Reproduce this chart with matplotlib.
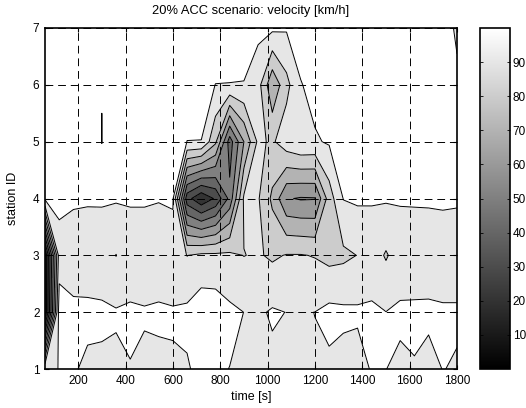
import numpy as np
import matplotlib
matplotlib.use("Agg")
import matplotlib.pyplot as plt
from matplotlib.colors import Normalize
from matplotlib.cm import ScalarMappable

plt.rcParams['font.family'] = ['Liberation Sans', 'DejaVu Sans']

times = [60, 120, 180, 240, 300, 360, 420, 480, 540, 600,
         660, 720, 780, 840, 900, 960, 1020, 1080, 1140, 1200,
         1260, 1320, 1380, 1440, 1500, 1560, 1620, 1680, 1740, 1800]
stations = [1, 2, 3, 4, 5, 6, 7]

v_st1 = [88, 90.2, 90.63, 88.73, 88.75, 88.58, 89.77, 88.78, 88.54, 89.4,
         89.25, 92.25, 91, 89.9, 88, 88, 88, 88.5, 89, 89.5,
         88.33, 86.94, 86.25, 90.75, 90.07, 88.7, 89.58, 87.75, 90.16, 89.4]
v_st2 = [0, 95, 91.9, 91.75, 91.35, 90.8, 91.1, 90.6, 91.1, 90.6,
         91.94, 96, 95.5, 91.8, 89.95, 88.6, 91, 89.86, 89.5, 90.05,
         92.5, 91.8, 91.46, 91.25, 90.1, 91.3, 91.4, 91.5, 91.0, 91.0]
v_st3 = [0, 85, 85, 85, 85, 79.8, 85, 85, 85, 85,
         79.8, 82, 82, 82, 79.8, 81, 78.5, 80.5, 80.5, 79.5,
         77, 78, 80.2, 85, 79, 85, 85, 85, 85, 85]
v_st4 = [92, 93, 91.2, 90.85, 90.9, 90.9, 90.9, 90.9, 90.4, 91.2,
         23.8, 12, 21.4, 43, 81.5, 81, 68, 50.8, 49.2, 49.5,
         75, 90.3, 91.46, 90.75, 91, 90.8, 90.9, 91, 91.3, 91]
v_st5 = [97, 97, 97, 97, 89.97, 97, 97, 97, 97, 97,
         89.9, 89.9, 72, 35, 60, 82, 78.5, 86, 89.5, 89,
         91, 95, 97, 97, 97, 97, 97, 97, 97, 97]
v_st6 = [97, 97, 97, 97, 90.03, 97, 97, 97, 97, 97,
         95, 93, 89.9, 89.8, 89.7, 84, 62, 77, 89.5, 93,
         96, 97, 97, 97, 97, 97, 97, 97, 94, 90.6]
v_st7 = [98, 98, 98, 98, 98, 98, 98, 98, 98, 98,
         97, 96, 95, 95, 94, 92.5, 92, 91, 95, 97,
         98, 98, 98, 98, 98, 98, 97, 95, 91.5, 89.5]

line_levels = [10, 20, 30, 40, 50, 60, 70, 80, 90]
xticks = [200, 400, 600, 800, 1000, 1200, 1400, 1600, 1800]
cbar_ticks = [10, 20, 30, 40, 50, 60, 70, 80, 90]

Z = np.array([v_st1, v_st2, v_st3, v_st4, v_st5, v_st6, v_st7])
X, Y = np.meshgrid(times, stations)

fig = plt.figure(figsize=(5.26, 4.08), dpi=100)
ax = fig.add_axes([45/526, 1 - 369/408, (457 - 45)/526, (369 - 28)/408])

fill_levels = [-1] + line_levels + [101]
fill_colors = [str(min(1.0, (line_levels[i] if i < len(line_levels) else 100) / 100.0))
               for i in range(len(fill_levels) - 1)]
ax.contourf(X, Y, Z, levels=fill_levels, colors=fill_colors)
ax.contour(X, Y, Z, levels=line_levels, colors='k', linewidths=0.7)

ax.set_xlim(60, 1800)
ax.set_ylim(1, 7)
ax.set_xticks(xticks)
ax.set_yticks(stations)
ax.tick_params(direction='in', length=3, width=0.8, labelsize=8.5, top=True, right=True, pad=4)
ax.set_axisbelow(False)
ax.grid(True, color='k', linewidth=0.7, linestyle=(0, (8, 5)))
for sp in ax.spines.values():
    sp.set_linewidth(1.2)

ax.set_title('20% ACC scenario: velocity [km/h]', fontsize=9.3, pad=10)
ax.set_xlabel('time [s]', fontsize=9, labelpad=3)
ax.set_ylabel('station ID', fontsize=9, labelpad=10)

cax = fig.add_axes([480/526, 1 - 369/408, 30/526, (369 - 28)/408])
sm = ScalarMappable(norm=Normalize(0, 100), cmap='gray')
cb = fig.colorbar(sm, cax=cax, ticks=cbar_ticks)
cb.outline.set_linewidth(1.2)
cax.tick_params(direction='in', length=2, width=0.6, labelsize=8.5, left=True, right=True, pad=2)

fig.savefig('out.png', dpi=100)
